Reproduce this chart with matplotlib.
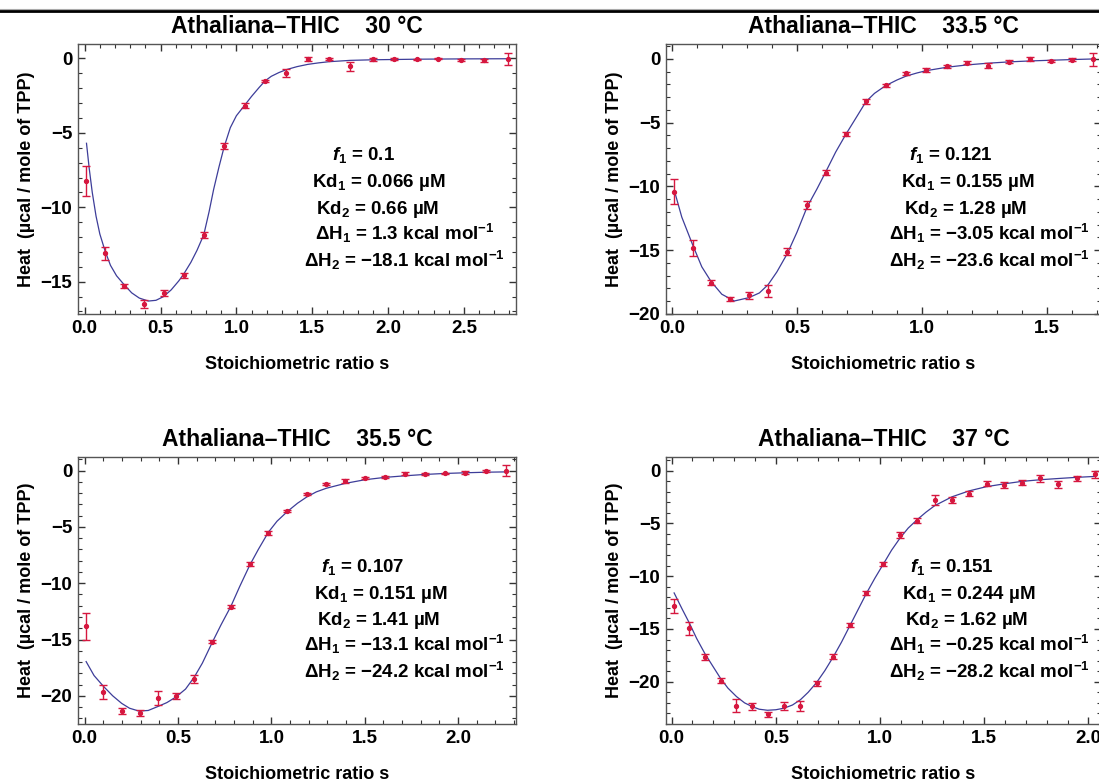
import matplotlib
matplotlib.use("Agg")
import matplotlib.pyplot as plt
from matplotlib.lines import Line2D
from matplotlib.ticker import MultipleLocator, FuncFormatter

plt.rcParams['font.family'] = ['Liberation Sans', 'DejaVu Sans']
plt.rcParams['font.weight'] = 'bold'
plt.rcParams['mathtext.fontset'] = 'custom'
plt.rcParams['mathtext.rm'] = 'Liberation Sans:bold'
plt.rcParams['mathtext.bf'] = 'Liberation Sans:bold'
plt.rcParams['mathtext.it'] = 'Liberation Sans:italic:bold'
plt.rcParams['mathtext.default'] = 'rm'

# ---- 30 °C ----
x_30 = [0.01, 0.135, 0.26, 0.39, 0.52, 0.652, 0.785, 0.919, 1.054, 1.19, 1.33,
        1.47, 1.61, 1.75, 1.90, 2.04, 2.19, 2.33, 2.48, 2.63, 2.79]
y_30 = [-8.26, -13.1, -15.29, -16.5, -15.74, -14.58, -11.85, -5.87, -3.17, -1.5, -0.98,
        -0.02, -0.04, -0.54, -0.07, -0.04, -0.07, -0.02, -0.09, -0.13, -0.04]
e_30 = [1.0, 0.45, 0.15, 0.25, 0.2, 0.15, 0.2, 0.2, 0.15, 0.08, 0.3,
        0.12, 0.06, 0.33, 0.08, 0.05, 0.05, 0.05, 0.06, 0.08, 0.4]
fit_x_30 = [0.012, 0.03, 0.05, 0.075, 0.10, 0.135, 0.17, 0.21, 0.26, 0.31, 0.36, 0.42, 0.47,
            0.52, 0.57, 0.62, 0.652, 0.70, 0.74, 0.785, 0.82, 0.85, 0.885, 0.919, 0.96, 1.0,
            1.054, 1.1, 1.15, 1.19, 1.23, 1.28, 1.33, 1.40, 1.47, 1.54, 1.61, 1.75, 1.90,
            2.2, 2.5, 2.8]
fit_y_30 = [-5.7, -7.4, -9.0, -10.6, -11.8, -12.95, -13.9, -14.6, -15.2, -15.75, -16.1, -16.3,
            -16.25, -16.0, -15.55, -14.95, -14.5, -13.7, -12.9, -11.85, -10.3, -8.8, -7.3,
            -5.95, -4.65, -3.85, -3.15, -2.55, -1.95, -1.5, -1.2, -0.95, -0.75, -0.55, -0.4,
            -0.3, -0.22, -0.13, -0.09, -0.05, -0.03, -0.02]

# ---- 33.5 °C ----
x_335 = [0.01, 0.084, 0.157, 0.232, 0.308, 0.385, 0.462, 0.541, 0.618, 0.696, 0.776,
         0.854, 0.936, 1.017, 1.098, 1.179, 1.262, 1.346, 1.43, 1.515, 1.6, 1.685]
y_335 = [-10.43, -14.81, -17.55, -18.85, -18.54, -18.2, -15.1, -11.47, -8.94, -5.87, -3.31,
         -2.06, -1.12, -0.86, -0.57, -0.31, -0.52, -0.21, -0.03, -0.16, -0.05, -0.03]
e_335 = [0.98, 0.63, 0.2, 0.15, 0.25, 0.5, 0.25, 0.33, 0.2, 0.17, 0.2,
         0.12, 0.12, 0.17, 0.12, 0.12, 0.23, 0.1, 0.15, 0.1, 0.12, 0.5]
fit_x_335 = [0.01, 0.04, 0.084, 0.12, 0.157, 0.2, 0.25, 0.308, 0.35, 0.385, 0.42, 0.462, 0.5,
             0.541, 0.58, 0.618, 0.655, 0.696, 0.74, 0.776, 0.81, 0.854, 0.9, 0.936, 0.98,
             1.017, 1.1, 1.18, 1.26, 1.35, 1.43, 1.52, 1.6, 1.69]
fit_y_335 = [-10.3, -12.4, -14.6, -16.3, -17.45, -18.45, -18.98, -18.72, -18.35, -17.7, -16.7,
             -15.25, -13.6, -11.6, -10.2, -8.75, -7.3, -5.9, -4.5, -3.35, -2.7, -2.1, -1.65,
             -1.35, -1.1, -0.92, -0.65, -0.47, -0.34, -0.23, -0.16, -0.1, -0.05, 0.0]

# ---- 35.5 °C ----
x_355 = [0.0075, 0.1, 0.198, 0.294, 0.39, 0.489, 0.587, 0.683, 0.783, 0.884, 0.984, 1.086,
         1.19, 1.293, 1.396, 1.501, 1.607, 1.714, 1.82, 1.929, 2.038, 2.147, 2.256]
y_355 = [-13.83, -19.65, -21.35, -21.5, -20.18, -20.03, -18.5, -15.2, -12.08, -8.33, -5.53,
         -3.57, -2.08, -1.23, -0.94, -0.67, -0.58, -0.29, -0.32, -0.26, -0.18, -0.03, 0.0]
e_355 = [1.2, 0.6, 0.25, 0.25, 0.65, 0.25, 0.35, 0.12, 0.15, 0.17, 0.17, 0.1,
         0.08, 0.08, 0.17, 0.1, 0.12, 0.12, 0.08, 0.08, 0.1, 0.12, 0.5]
fit_x_355 = [0.0075, 0.05, 0.1, 0.15, 0.198, 0.24, 0.29, 0.34, 0.39, 0.44, 0.489, 0.54, 0.587,
             0.63, 0.683, 0.73, 0.783, 0.83, 0.884, 0.93, 0.984, 1.03, 1.086, 1.14, 1.19,
             1.24, 1.293, 1.396, 1.5, 1.607, 1.714, 1.82, 1.93, 2.04, 2.15, 2.26]
fit_y_355 = [-16.96, -18.2, -19.15, -20.0, -20.67, -21.1, -21.35, -21.3, -20.96, -20.6, -20.1,
             -19.4, -18.33, -17.1, -15.26, -13.7, -12.05, -10.3, -8.4, -7.0, -5.47, -4.5,
             -3.63, -2.9, -2.34, -1.9, -1.58, -1.14, -0.82, -0.61, -0.47, -0.35, -0.26, -0.2,
             -0.15, -0.12]

# ---- 37 °C ----
x_37 = [0.012, 0.084, 0.16, 0.235, 0.311, 0.385, 0.463, 0.54, 0.618, 0.696, 0.775, 0.855,
        0.934, 1.015, 1.096, 1.177, 1.262, 1.345, 1.427, 1.512, 1.596, 1.682, 1.769, 1.855,
        1.943, 2.03]
y_37 = [-12.83, -14.95, -17.63, -19.9, -22.27, -22.34, -23.1, -22.27, -22.27, -20.16, -17.63,
        -14.64, -11.62, -8.85, -6.07, -4.74, -2.77, -2.8, -2.18, -1.25, -1.37, -1.15, -0.75,
        -1.31, -0.75, -0.37]
e_37 = [0.63, 0.65, 0.3, 0.25, 0.6, 0.37, 0.25, 0.37, 0.47, 0.25, 0.25, 0.22,
        0.2, 0.2, 0.28, 0.25, 0.47, 0.28, 0.22, 0.25, 0.25, 0.22, 0.37, 0.31, 0.22, 0.37]
fit_x_37 = [0.012, 0.05, 0.084, 0.12, 0.16, 0.2, 0.235, 0.27, 0.311, 0.35, 0.385, 0.42, 0.46,
            0.5, 0.54, 0.58, 0.618, 0.655, 0.696, 0.735, 0.775, 0.815, 0.855, 0.895, 0.934,
            0.975, 1.015, 1.055, 1.096, 1.135, 1.177, 1.22, 1.262, 1.345, 1.427, 1.51, 1.6,
            1.68, 1.77, 1.86, 1.94, 2.03]
fit_y_37 = [-11.59, -13.1, -14.4, -15.9, -17.35, -18.6, -19.69, -20.6, -21.4, -22.0, -22.34,
            -22.6, -22.7, -22.65, -22.5, -22.2, -21.7, -21.0, -20.06, -18.95, -17.66, -16.25,
            -14.7, -13.15, -11.65, -10.2, -8.88, -7.55, -6.39, -5.45, -4.67, -3.95, -3.33,
            -2.49, -1.93, -1.53, -1.25, -1.03, -0.87, -0.75, -0.65, -0.56]

titles = ['Athaliana\u2013THIC    30 °C', 'Athaliana\u2013THIC    33.5 °C',
          'Athaliana\u2013THIC    35.5 °C', 'Athaliana\u2013THIC    37 °C']
ann_30 = [r'$\mathit{f}_1$ = 0.1', 'Kd$_1$ = 0.066 µM', 'Kd$_2$ = 0.66 µM',
          r'ΔH$_1$ = 1.3 kcal mol$^{-1}$', 'ΔH$_2$ = \u221218.1 kcal mol$^{-1}$']
ann_335 = [r'$\mathit{f}_1$ = 0.121', 'Kd$_1$ = 0.155 µM', 'Kd$_2$ = 1.28 µM',
           'ΔH$_1$ = \u22123.05 kcal mol$^{-1}$', 'ΔH$_2$ = \u221223.6 kcal mol$^{-1}$']
ann_355 = [r'$\mathit{f}_1$ = 0.107', 'Kd$_1$ = 0.151 µM', 'Kd$_2$ = 1.41 µM',
           'ΔH$_1$ = \u221213.1 kcal mol$^{-1}$', 'ΔH$_2$ = \u221224.2 kcal mol$^{-1}$']
ann_37 = [r'$\mathit{f}_1$ = 0.151', 'Kd$_1$ = 0.244 µM', 'Kd$_2$ = 1.62 µM',
          'ΔH$_1$ = \u22120.25 kcal mol$^{-1}$', 'ΔH$_2$ = \u221228.2 kcal mol$^{-1}$']

W, H = 1099, 783
red = '#d6173f'
blue = '#3d3d99'

# pixel boxes (left, right, top, bottom), axis limits, text x offsets
panels = [
    dict(box=(78, 516, 44, 314), xlim=(-0.044, 2.843), ylim=(-17.17, 0.97),
         data=(x_30, y_30, e_30, fit_x_30, fit_y_30), ann=ann_30,
         tx=[0.579, 0.535, 0.543, 0.541, 0.516]),
    dict(box=(666, 1101, 44, 314), xlim=(-0.023, 1.715), ylim=(-20.0, 1.17),
         data=(x_335, y_335, e_335, fit_x_335, fit_y_335), ann=ann_335,
         tx=[0.558, 0.54, 0.548, 0.513, 0.513]),
    dict(box=(78, 516, 457, 724), xlim=(-0.036, 2.31), ylim=(-22.5, 1.2),
         data=(x_355, y_355, e_355, fit_x_355, fit_y_355), ann=ann_355,
         tx=[0.555, 0.538, 0.545, 0.516, 0.516]),
    dict(box=(666, 1101, 457, 724), xlim=(-0.027, 2.06), ylim=(-24.0, 1.28),
         data=(x_37, y_37, e_37, fit_x_37, fit_y_37), ann=ann_37,
         tx=[0.56, 0.542, 0.55, 0.513, 0.513]),
]
ty = [0.571, 0.470, 0.371, 0.273, 0.174]

fig = plt.figure(figsize=(W / 100, H / 100), dpi=100)

yfmt = FuncFormatter(lambda v, p: f'{v:.0f}'.replace('-', '\u2212'))
xfmt = FuncFormatter(lambda v, p: f'{v:.1f}')

for p, title in zip(panels, titles):
    l, r, t, b = p['box']
    ax = fig.add_axes([l / W, 1 - b / H, (r - l) / W, (b - t) / H])
    xs, ys, es, fx, fy = p['data']
    ax.plot(fx, fy, color=blue, lw=0.9, zorder=2)
    ax.errorbar(xs, ys, yerr=es, fmt='o', ms=2.8, color=red, ecolor=red,
                elinewidth=1.0, capsize=2.8, capthick=1.0, zorder=3)
    ax.set_xlim(*p['xlim'])
    ax.set_ylim(*p['ylim'])
    ax.xaxis.set_major_locator(MultipleLocator(0.5))
    ax.xaxis.set_minor_locator(MultipleLocator(0.1))
    ax.yaxis.set_major_locator(MultipleLocator(5))
    ax.yaxis.set_minor_locator(MultipleLocator(1))
    ax.xaxis.set_major_formatter(xfmt)
    ax.yaxis.set_major_formatter(yfmt)
    ax.tick_params(which='both', direction='in', top=True, right=True,
                   labelsize=13.5, color='#333333')
    ax.tick_params(which='major', length=5, width=1.0, pad=4)
    ax.tick_params(which='minor', length=3, width=0.8)
    for s in ax.spines.values():
        s.set_color('#555555')
        s.set_linewidth(1.0)
    ax.set_title(title, fontsize=16.5, fontweight='bold', pad=8)
    ax.set_xlabel('Stoichiometric ratio s', fontsize=13, fontweight='bold', labelpad=14)
    ax.set_ylabel('Heat  (µcal / mole of TPP)', fontsize=13, fontweight='bold', labelpad=4)
    for txt, x, y in zip(p['ann'], p['tx'], ty):
        ax.text(x, y, txt, transform=ax.transAxes, fontsize=13.5, fontweight='bold',
                ha='left', va='baseline')

# page rules at the very top
fig.add_artist(Line2D([0, 1], [1 - 8.5 / H] * 2, color='#aaaaaa', lw=0.8,
                      transform=fig.transFigure))
fig.add_artist(Line2D([0, 1], [1 - 11 / H] * 2, color='black', lw=2.0,
                      transform=fig.transFigure))

fig.savefig('out.png', dpi=100)
